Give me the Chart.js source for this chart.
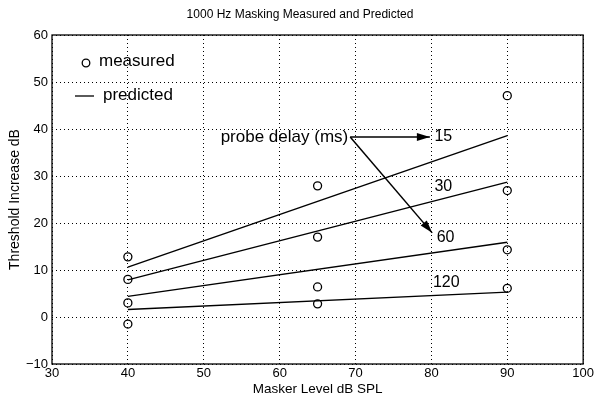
<!DOCTYPE html>
<html><head><meta charset="utf-8">
<script src="https://cdn.jsdelivr.net/npm/chart.js@4/dist/chart.umd.min.js"></script>
<style>html,body{margin:0;padding:0;background:#fff}#wrap{width:596px;height:398px}</style>
</head><body><div id="wrap"><canvas id="c" width="596" height="398"></canvas></div>
<script>
const maskerLevels = [40, 65, 90];
const measured15 = [12.8, 27.9, 47.1];
const measured30 = [8.0, 17.0, 26.9];
const measured60 = [3.0, 6.4, 14.3];
const measured120 = [-1.5, 2.8, 6.1];
const predictedX = [40, 90];
const predicted15 = [10.6, 38.6];
const predicted30 = [7.9, 28.7];
const predicted60 = [4.4, 15.9];
const predicted120 = [1.6, 5.3];
const delayLabels = ['15', '30', '60', '120'];
const delayLabelX = [80.4, 80.4, 80.7, 80.2];
const delayLabelY = [38.3, 27.8, 16.8, 7.3];
const xTicks = [30, 40, 50, 60, 70, 80, 90, 100];
const yTicks = [-10, 0, 10, 20, 30, 40, 50, 60];

const FONT = '"Liberation Sans", Arial, Helvetica, sans-serif';
const pts = (ys) => maskerLevels.map((x, i) => ({x, y: ys[i]}));
const line = (ys) => predictedX.map((x, i) => ({x, y: ys[i]}));

const measuredData = [].concat(pts(measured15), pts(measured30), pts(measured60), pts(measured120));

const overlay = {
  id: 'overlay',
  afterDraw(chart) {
    const ctx = chart.ctx, a = chart.chartArea;
    const xs = chart.scales.x, ys = chart.scales.y;
    ctx.save();
    ctx.strokeStyle = '#000'; ctx.lineWidth = 1.3; ctx.setLineDash([]);
    ctx.strokeRect(a.left, a.top, a.right - a.left, a.bottom - a.top);
    ctx.fillStyle = '#000';
    ctx.font = '12px ' + FONT; ctx.textAlign = 'center'; ctx.textBaseline = 'middle';
    ctx.fillText('1000 Hz Masking Measured and Predicted', 300, 15);
    ctx.lineWidth = 1.3;
    ctx.beginPath(); ctx.arc(86, 63, 3.8, 0, Math.PI * 2); ctx.stroke();
    ctx.beginPath(); ctx.moveTo(75, 96); ctx.lineTo(94, 96); ctx.stroke();
    ctx.font = '17px ' + FONT; ctx.textAlign = 'left';
    ctx.fillText('measured', 99, 61);
    ctx.fillText('predicted', 103, 95);
    ctx.font = '16px ' + FONT;
    delayLabels.forEach((t, i) => {
      ctx.fillText(t, xs.getPixelForValue(delayLabelX[i]), ys.getPixelForValue(delayLabelY[i]));
    });
    const ox = xs.getPixelForValue(69.3), oy = ys.getPixelForValue(38.3);
    ctx.font = '17px ' + FONT;
    ctx.textAlign = 'right';
    ctx.fillText('probe delay (ms)', ox - 2, oy);
    const arrow = (x1, y1, x2, y2) => {
      ctx.beginPath(); ctx.moveTo(x1, y1); ctx.lineTo(x2, y2); ctx.lineWidth = 1.5; ctx.stroke();
      const ang = Math.atan2(y2 - y1, x2 - x1), L = 13, W = 4;
      ctx.beginPath();
      ctx.moveTo(x2, y2);
      ctx.lineTo(x2 - L * Math.cos(ang) + W * Math.sin(ang), y2 - L * Math.sin(ang) - W * Math.cos(ang));
      ctx.lineTo(x2 - L * Math.cos(ang) - W * Math.sin(ang), y2 - L * Math.sin(ang) + W * Math.cos(ang));
      ctx.closePath(); ctx.fill();
    };
    arrow(ox, oy, xs.getPixelForValue(79.8), oy);
    arrow(ox, oy, xs.getPixelForValue(80.1), ys.getPixelForValue(17.9));
    ctx.restore();
  }
};

const lineDs = (ys) => ({type: 'line', data: line(ys), borderColor: '#000', borderWidth: 1.4, pointRadius: 0, fill: false, tension: 0});

new Chart(document.getElementById('c'), {
  type: 'scatter',
  data: {
    datasets: [
      {label: 'measured', data: measuredData, pointStyle: 'circle', pointRadius: 4, borderColor: '#000', backgroundColor: 'rgba(0,0,0,0)', borderWidth: 1.3, showLine: false},
      lineDs(predicted15), lineDs(predicted30), lineDs(predicted60), lineDs(predicted120)
    ]
  },
  options: {
    responsive: false, animation: false,
    layout: {padding: {top: 35, right: 10, left: 0, bottom: 0}},
    plugins: {legend: {display: false}, tooltip: {enabled: false}, title: {display: false}},
    scales: {
      x: {
        type: 'linear', min: 30, max: 100,
        afterBuildTicks: (s) => { s.ticks = xTicks.map(v => ({value: v})); },
        afterFit: (s) => { s.height = 34; },
        grid: {color: '#000', lineWidth: 1, drawTicks: false},
        border: {display: false, dash: [1, 3]},
        ticks: {color: '#000', font: {family: FONT, size: 13}, padding: 2, maxRotation: 0, autoSkip: false},
        title: {display: true, text: 'Masker Level dB SPL', color: '#000', font: {family: FONT, size: 13.5}, padding: {top: 0, bottom: 1}}
      },
      y: {
        type: 'linear', min: -10, max: 60,
        afterBuildTicks: (s) => { s.ticks = yTicks.map(v => ({value: v})); },
        afterFit: (s) => { s.width = 52; },
        grid: {color: '#000', lineWidth: 1, drawTicks: false},
        border: {display: false, dash: [1, 3]},
        ticks: {color: '#000', font: {family: FONT, size: 13}, padding: 4, autoSkip: false,
          callback: (v) => String(v).replace('-', '\u2212')},
        title: {display: true, text: 'Threshold Increase dB', color: '#000', font: {family: FONT, size: 14}, padding: {top: 7, bottom: 0}}
      }
    }
  },
  plugins: [overlay]
});
</script>
</body></html>
